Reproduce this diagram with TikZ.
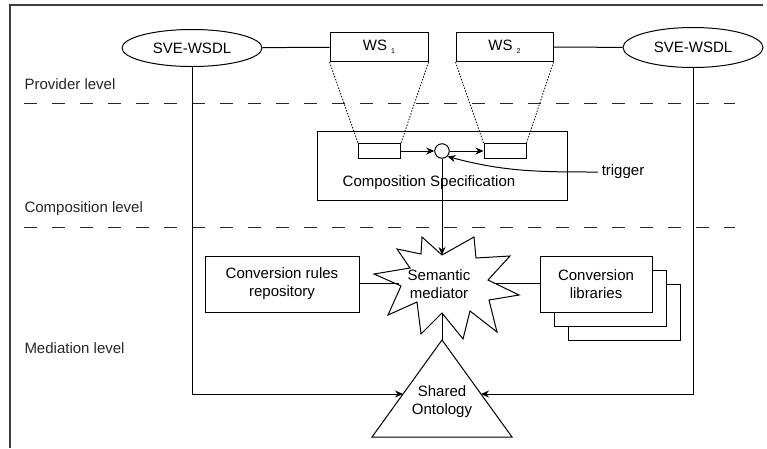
\documentclass[tikz,border=0pt]{standalone}
\usepackage{fontspec}
\setmainfont{Liberation Sans}
\usetikzlibrary{shapes.geometric, arrows.meta, positioning}

\begin{document}
\begin{tikzpicture}[
    x=10pt, y=-10pt,
    font=\fontsize{15}{18}\selectfont,
    line width=1pt,
    >={Stealth[length=8pt, width=7pt]},
    box/.style={draw, rectangle, inner sep=0pt, fill=white, align=center},
    wsdl/.style={draw, ellipse, inner sep=0pt, minimum width=140pt, minimum height=37pt, fill=white},
    slot/.style={draw, rectangle, inner sep=0pt, minimum width=42pt, minimum height=15pt, fill=white},
    levelline/.style={dash pattern=on 13pt off 15pt, draw=black!85},
    leveltext/.style={anchor=west, inner sep=0pt, text=black!85},
    link/.style={dash pattern=on 1.5pt off 1.5pt, line width=0.8pt}
]
    \useasboundingbox (0, 0) rectangle (76.7, 44.8);

    % Frame (top and left edge)
    \draw [draw=black!75, line width=1.4pt] (76.3, 0.5) -- (1.0, 0.5) -- (1.0, 44.8);

    % Level separators and labels
    \foreach \y in {10.3, 22.7} {
        \draw [levelline] (2.4, \y) -- (73.5, \y);
    }
    \node [leveltext] (provider) at (2.4, 8.4) {Provider level};
    \node [leveltext] (composition) at (2.4, 20.9) {Composition level};
    \node [leveltext] (mediation) at (2.4, 34.8) {Mediation level};

    % Provider level
    \node [wsdl] (wsdlL) at (19.2, 4.8) {SVE-WSDL};
    \node [wsdl, minimum height=40pt] (wsdlR) at (69.3, 4.75) {SVE-WSDL};
    \node [box, minimum width=98pt, minimum height=29pt] (ws1) at (37.9, 4.7) {WS \raisebox{-.4ex}{\scriptsize 1}};
    \node [box, minimum width=97pt, minimum height=29pt] (ws2) at (50.45, 4.7) {WS \raisebox{-.4ex}{\scriptsize 2}};
    \draw (wsdlL) -- (ws1);
    \draw (ws2) -- (wsdlR);

    % Composition level
    \node [box, minimum width=250pt, minimum height=69pt] (comp) at (44.2, 16.55) {};
    \node (compText) at (42.9, 18.3) {Composition Specification};
    \node [slot] (s1) at (37.95, 15.1) {};
    \node [slot] (s2) at (50.5, 15.1) {};
    \node [draw, circle, inner sep=0pt, minimum size=14.5pt, fill=white] (junc) at (44.2, 15.1) {};
    \node (trigger) at (62.3, 17.2) {trigger};

    \draw [link] (ws1.south west) -- (s1.north west);
    \draw [link] (ws1.south east) -- (s1.north east);
    \draw [link] (ws2.south west) -- (s2.north west);
    \draw [link] (ws2.south east) -- (s2.north east);
    \draw [->] (s1) -- (junc);
    \draw [->] (junc) -- (s2);
    \draw [->] (trigger.west) to [out=180, in=-15] (junc.south east);

    % Mediation level
    \coordinate (medT) at (44.2, 25.5);
    \coordinate (medB) at (44.2, 31.3);
    \coordinate (medL) at (39.9, 28.3);
    \coordinate (medR) at (49.4, 28.3);
    \draw [fill=white] (42.2, 23.7) -- (medT) -- (47.4, 23.7) -- (47.6, 25.8) -- (51.0, 25.6)
        -- (48.8, 28.0) -- (51.9, 29.5) -- (48.9, 30.0) -- (49.7, 33.2) -- (47.0, 31.1)
        -- (46.3, 33.9) -- (medB) -- (42.1, 33.4) -- (41.7, 30.2) -- (38.8, 31.5)
        -- (40.1, 28.6) -- (37.4, 27.4) -- (41.0, 26.8) -- (39.7, 24.9) -- (42.1, 25.4) -- cycle;
    \node [align=center] (med) at (43.9, 28.4) {Semantic\\mediator};

    \node [box, minimum width=154pt, minimum height=56pt] (rules) at (28.2, 28.4) {Conversion rules\\repository};
    \foreach \d in {2.8, 1.4} {
        \draw [fill=white] (54.0+\d, 25.6+\d) rectangle +(11.2, 5.6);
    }
    \node [box, minimum width=112pt, minimum height=56pt] (libs) at (59.6, 28.4) {Conversion\\libraries};

    \draw (rules.east |- medL) -- (medL);
    \draw (medR) -- (libs.west |- medR);
    \draw [->] (junc) -- (medT);

    % Shared ontology
    \coordinate (ontoTop) at (44.2, 34.0);
    \coordinate (ontoL) at (40.3, 39.4);
    \coordinate (ontoR) at (48.1, 39.4);
    \draw (ontoTop) -- (51.2, 43.7) -- (37.2, 43.7) -- cycle;
    \node [align=center] (onto) at (44.2, 40.15) {Shared\\Ontology};
    \draw (medB) -- (ontoTop);
    \draw [->] (wsdlL.south) |- (ontoL);
    \draw [->] (wsdlR.south) |- (ontoR);

\end{tikzpicture}
\end{document}
